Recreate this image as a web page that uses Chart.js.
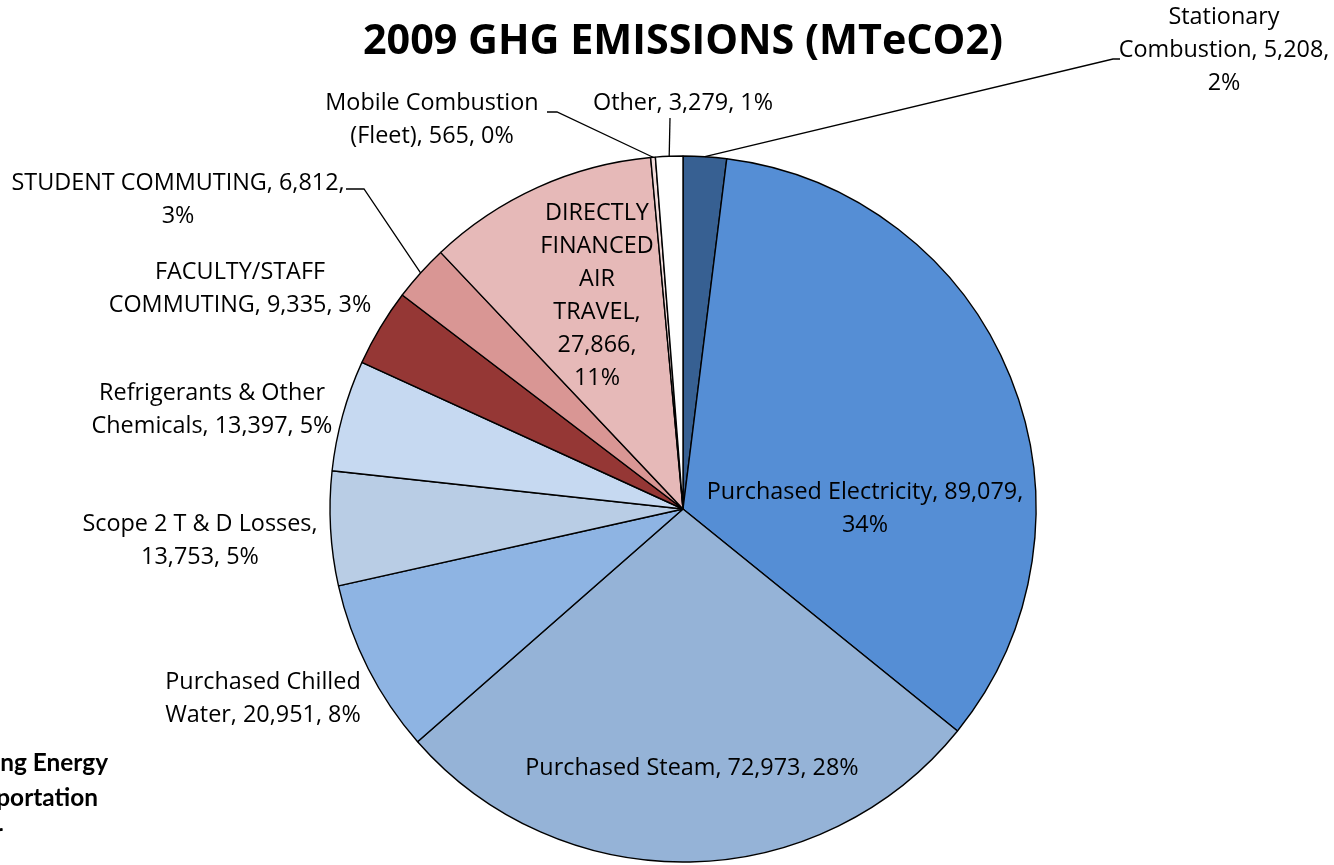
<!DOCTYPE html>
<html>
<head>
<meta charset="utf-8">
<title>2009 GHG Emissions</title>
<script src="https://cdn.jsdelivr.net/npm/chart.js@4.4.0/dist/chart.umd.min.js"></script>
<style>
  body { margin: 0; background: #fff; }
  #wrap { width: 1334px; height: 865px; }
</style>
</head>
<body>
<div id="wrap"><canvas id="ghgChart" width="1334" height="865"></canvas></div>
<script>
// Emission sources, clockwise from 12 o'clock
const categories = [
    'Stationary Combustion',
    'Purchased Electricity',
    'Purchased Steam',
    'Purchased Chilled Water',
    'Scope 2 T & D Losses',
    'Refrigerants & Other Chemicals',
    'FACULTY/STAFF COMMUTING',
    'STUDENT COMMUTING',
    'DIRECTLY FINANCED AIR TRAVEL',
    'Mobile Combustion (Fleet)',
    'Other'
];

// MTeCO2
const emissions = [5208, 89079, 72973, 20951, 13753, 13397, 9335, 6812, 27866, 565, 3279];

// percentages as printed on the chart
const percentLabels = ['2%', '34%', '28%', '8%', '5%', '5%', '3%', '3%', '11%', '0%', '1%'];

const sliceColors = [
    '#376092', // stationary
    '#558ED5', // electricity
    '#95B3D7', // steam
    '#8EB4E3', // chilled water
    '#B9CDE5', // T&D losses
    '#C6D9F1', // refrigerants
    '#953735', // faculty/staff commuting
    '#D99694', // student commuting
    '#E6B9B8', // air travel
    '#F2DCDB', // fleet
    '#FFFFFF'  // other
];

const legendGroups = ['Building Energy', 'Transportation', 'Other'];
const legendColors = ['#558ED5', '#953735', '#FFFFFF'];

const chartTitle = '2009 GHG EMISSIONS (MTeCO2)';

// where each data label sits (first line centre) and how its words wrap
const labelLayout = [
    { x: 1224, y: 17, lines: [1, 2, 1], leader: [[1113, 59], [1120, 59]] },
    { x: 865, y: 492, lines: [3, 1] },
    { x: 692, y: 768, lines: [4] },
    { x: 263, y: 682, lines: [2, 3] },
    { x: 200, y: 524, lines: [6, 2] },
    { x: 212, y: 393, lines: [3, 3] },
    { x: 240, y: 272, lines: [1, 3] },
    { x: 178, y: 183, lines: [3, 1], leader: [[364, 189], [346, 189]] },
    { x: 597, y: 213, lines: [1, 1, 1, 1, 1, 1] },
    { x: 432, y: 103, lines: [2, 3], leader: [[557, 112], [547, 112]] },
    { x: 683, y: 103, lines: [3], leader: [[670, 118]] }
];

const FONT = '"Open Sans", Lato, sans-serif';
const LEGEND_FONT = 'Lato, "Open Sans", sans-serif';
const LINE_H = 33;

function labelText(i) {
    return categories[i] + ', ' + emissions[i].toLocaleString('en-US') + ', ' + percentLabels[i];
}

function wrapWords(text, counts) {
    const words = text.split(' ');
    const out = [];
    let k = 0;
    counts.forEach(n => {
        out.push(words.slice(k, k + n).join(' '));
        k += n;
    });
    return out;
}

// font size that makes `text` about `width` px wide
function fitSize(ctx, weight, text, width, family) {
    ctx.font = weight + ' 20px ' + (family || FONT);
    return 20 * width / ctx.measureText(text).width;
}

// draws title, data labels with leader lines, and the clipped legend
const annotatePlugin = {
    id: 'annotate',
    afterDatasetsDraw(chart) {
        const ctx = chart.ctx;
        const arcs = chart.getDatasetMeta(0).data;
        ctx.save();

        // leader lines
        ctx.strokeStyle = '#000';
        ctx.lineWidth = 1.3;
        labelLayout.forEach((lay, i) => {
            if (!lay.leader) return;
            const a = arcs[i].getProps(['x', 'y', 'startAngle', 'endAngle', 'outerRadius'], true);
            const mid = (a.startAngle + a.endAngle) / 2;
            ctx.beginPath();
            ctx.moveTo(a.x + Math.cos(mid) * a.outerRadius, a.y + Math.sin(mid) * a.outerRadius);
            lay.leader.forEach(p => ctx.lineTo(p[0], p[1]));
            ctx.stroke();
        });

        // data labels
        const size = fitSize(ctx, 'normal', 'Purchased Electricity, 89,079,', 316);
        ctx.fillStyle = '#000';
        ctx.font = size.toFixed(1) + 'px ' + FONT;
        ctx.textAlign = 'center';
        ctx.textBaseline = 'middle';
        labelLayout.forEach((lay, i) => {
            const lines = wrapWords(labelText(i), lay.lines);
            lines.forEach((ln, j) => ctx.fillText(ln, lay.x, lay.y + j * LINE_H));
        });

        // title
        const ts = fitSize(ctx, 'bold', chartTitle, 640);
        ctx.font = 'bold ' + ts.toFixed(1) + 'px ' + FONT;
        ctx.fillText(chartTitle, 683, 42);

        // legend, mostly off the left edge (only the word ends show)
        const ls = fitSize(ctx, 'bold', 'ng Energy', 108, LEGEND_FONT);
        ctx.font = 'bold ' + ls.toFixed(1) + 'px ' + LEGEND_FONT;
        ctx.textAlign = 'left';
        const lx = 108 - ctx.measureText(legendGroups[0]).width;
        legendGroups.forEach((g, i) => {
            const y = 763 + i * 35;
            ctx.fillStyle = legendColors[i];
            ctx.fillRect(lx - 22, y - 7, 14, 14);
            ctx.fillStyle = '#000';
            ctx.fillText(g, lx, y);
        });

        ctx.restore();
    }
};

const ctx = document.getElementById('ghgChart').getContext('2d');
const ghgChart = new Chart(ctx, {
    type: 'pie',
    data: {
        labels: categories,
        datasets: [{
            data: emissions,
            backgroundColor: sliceColors,
            borderColor: '#000',
            borderWidth: 1.4
        }]
    },
    options: {
        responsive: false,
        animation: false,
        radius: 353,
        layout: { padding: { left: 329, right: 297, top: 155, bottom: 2 } },
        plugins: {
            legend: { display: false },
            tooltip: { enabled: false },
            title: { display: false }
        }
    },
    plugins: [annotatePlugin]
});
</script>
</body>
</html>
